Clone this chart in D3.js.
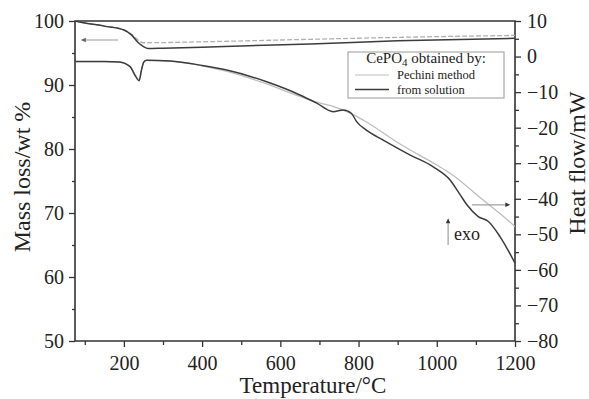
<!DOCTYPE html>
<html>
<head>
<meta charset="utf-8">
<script src="https://cdn.jsdelivr.net/npm/d3@7"></script>
<style>
  html, body { margin: 0; padding: 0; background: #fff; }
  svg { display: block; font-family: "Liberation Serif", "Times New Roman", serif; }
</style>
</head>
<body>
<svg id="chart" width="589" height="399"></svg>
<script>
// Thermogravimetric (mass) curves, left axis
const tgSolutionT = [75, 100, 150, 200, 220, 237, 250, 262, 300, 400, 500, 676, 900, 1200];
const tgSolution  = [100, 99.7, 99.2, 98.6, 97.8, 96.6, 96.0, 95.7, 95.75, 95.9, 96.1, 96.4, 96.9, 97.3];
const tgPechiniT  = [75, 100, 150, 200, 220, 237, 250, 400, 676, 906, 1200];
const tgPechini   = [100, 99.7, 99.2, 98.6, 97.9, 97.0, 96.6, 96.75, 97.14, 97.45, 97.75];

// DSC (heat flow) curves, right axis
const dscSolutionT = [75, 150, 188, 216, 228, 239, 245, 251, 258, 318, 400, 463, 565, 650, 693, 735, 761, 782, 795, 820, 863, 932, 991, 1034, 1060, 1077, 1106, 1132, 1162, 1200];
const dscSolution  = [-1.4, -1.4, -1.5, -2.85, -5.2, -6.8, -3.8, -1.5, -1.05, -1.25, -2.5, -3.8, -7.1, -10.8, -13.1, -15.5, -15.0, -16.0, -18.3, -20.7, -23.5, -27.7, -31.0, -34.7, -38.9, -41.7, -45.0, -46.4, -50.7, -58.1];
const dscPechiniT  = [75, 150, 188, 216, 228, 239, 245, 251, 258, 318, 400, 464, 565, 650, 700, 735, 780, 820, 906, 1000, 1034, 1118, 1160, 1200];
const dscPechini   = [-1.4, -1.4, -1.5, -2.8, -5.0, -6.5, -3.7, -1.5, -1.1, -1.3, -2.6, -4.2, -7.7, -11.2, -13.0, -14.0, -16.0, -18.4, -24.6, -30.5, -32.8, -40.3, -44.0, -47.8];

// Axis ticks
const xMajor = [200, 400, 600, 800, 1000, 1200];
const xMinor = [100, 300, 500, 700, 900, 1100];
const yLeftMajor = [50, 60, 70, 80, 90, 100];
const yLeftMinor = [55, 65, 75, 85, 95];
const yRightMajor = [10, 0, -10, -20, -30, -40, -50, -60, -70, -80];
const yRightMinor = [5, -5, -15, -25, -35, -45, -55, -65, -75];

const legendTitle = "obtained by:";
const legendNames = ["Pechini method", "from solution"];

const svg = d3.select("#chart");
const L = 75, R = 515, T = 21, B = 341;

const x = d3.scaleLinear().domain([75, 1200]).range([L, R]);
const yL = d3.scaleLinear().domain([50, 100]).range([B, T]);
const yR = d3.scaleLinear().domain([-80, 10]).range([B, T]);

const axisColor = "#333";
const darkLine = "#3c3c3c";
const lightLine = "#bdbdbd";
const tickFont = 20;

function styleAxis(g) {
  g.select(".domain").remove();
  g.selectAll(".tick line").attr("stroke", axisColor).attr("stroke-width", 1.3);
  g.selectAll("text").attr("fill", "#222").style("font-size", tickFont + "px")
    .style("font-family", '"Liberation Serif", serif');
}

// bottom axis
svg.append("g").attr("transform", `translate(0,${B})`)
  .call(d3.axisBottom(x).tickValues(xMinor).tickSize(4).tickFormat(""))
  .call(styleAxis);
svg.append("g").attr("transform", `translate(0,${B})`)
  .call(d3.axisBottom(x).tickValues(xMajor).tickSize(6).tickPadding(9).tickFormat(d3.format("d")))
  .call(styleAxis);

// left axis
svg.append("g").attr("transform", `translate(${L},0)`)
  .call(d3.axisLeft(yL).tickValues(yLeftMinor).tickSize(3).tickFormat(""))
  .call(styleAxis);
svg.append("g").attr("transform", `translate(${L},0)`)
  .call(d3.axisLeft(yL).tickValues(yLeftMajor).tickSize(6).tickPadding(5).tickFormat(d3.format("d")))
  .call(styleAxis);

// right axis
svg.append("g").attr("transform", `translate(${R},0)`)
  .call(d3.axisRight(yR).tickValues(yRightMinor).tickSize(4).tickFormat(""))
  .call(styleAxis);
svg.append("g").attr("transform", `translate(${R},0)`)
  .call(d3.axisRight(yR).tickValues(yRightMajor).tickSize(6).tickPadding(6).tickFormat(d3.format("d")))
  .call(styleAxis);

// frame
svg.append("path")
  .attr("d", `M${L},${B}V${T}H${R}V${B}H${L}`)
  .attr("fill", "none").attr("stroke", axisColor).attr("stroke-width", 1.6);

// curves
const zip = (a, b) => a.map((t, i) => [t, b[i]]);
const lineL = d3.line().x(d => x(d[0])).y(d => yL(d[1])).curve(d3.curveMonotoneX);
const lineR = d3.line().x(d => x(d[0])).y(d => yR(d[1])).curve(d3.curveMonotoneX);

const plot = svg.append("g");
plot.append("path").datum(zip(dscPechiniT, dscPechini)).attr("d", lineR)
  .attr("fill", "none").attr("stroke", lightLine).attr("stroke-width", 1.3);
plot.append("path").datum(zip(tgPechiniT, tgPechini)).attr("d", lineL)
  .attr("fill", "none").attr("stroke", "#b0b0b0").attr("stroke-width", 1.3)
  .attr("stroke-dasharray", "5,2");
plot.append("path").datum(zip(dscSolutionT, dscSolution)).attr("d", lineR)
  .attr("fill", "none").attr("stroke", darkLine).attr("stroke-width", 1.5);
plot.append("path").datum(zip(tgSolutionT, tgSolution)).attr("d", lineL)
  .attr("fill", "none").attr("stroke", darkLine).attr("stroke-width", 1.5);

// arrows
function arrow(x1, y1, x2, y2, lineColor, headColor) {
  const ang = Math.atan2(y2 - y1, x2 - x1);
  const hl = 5, hw = 2.2;
  const bx = x2 - hl * Math.cos(ang), by = y2 - hl * Math.sin(ang);
  svg.append("line").attr("x1", x1).attr("y1", y1).attr("x2", bx).attr("y2", by)
    .attr("stroke", lineColor).attr("stroke-width", 1.2);
  const px = -Math.sin(ang) * hw, py = Math.cos(ang) * hw;
  svg.append("path")
    .attr("d", `M${x2},${y2}L${bx + px},${by + py}L${bx - px},${by - py}Z`)
    .attr("fill", headColor);
}
// mass curves belong to the left axis
arrow(x(185), yL(97.03), x(90), yL(97.03), "#9a9a9a", "#666");
// heat flow curves belong to the right axis
arrow(x(1090), yR(-41.7), x(1188), yR(-41.7), "#a0a0a0", "#333");
// exothermic direction
arrow(x(1029), yR(-53), x(1029), yR(-45.5), "#a0a0a0", "#333");
svg.append("text").attr("x", x(1044)).attr("y", yR(-51.6))
  .attr("fill", "#222").style("font-size", "18px").text("exo");

// legend
const lg = svg.append("g");
lg.append("rect").attr("x", 348).attr("y", 52).attr("width", 156).attr("height", 46)
  .attr("fill", "#fff").attr("stroke", "#9a9a9a").attr("stroke-width", 1);
const lt = lg.append("text").attr("x", 426).attr("y", 63).attr("text-anchor", "middle")
  .attr("fill", "#222").style("font-size", "15px");
lt.append("tspan").text("CePO");
lt.append("tspan").attr("dy", 3).style("font-size", "11px").text("4");
lt.append("tspan").attr("dy", -3).text(" " + legendTitle);
const legendColors = [lightLine, darkLine];
legendNames.forEach((n, i) => {
  const yy = 75 + i * 14.5;
  lg.append("line").attr("x1", 355).attr("x2", 389).attr("y1", yy).attr("y2", yy)
    .attr("stroke", legendColors[i]).attr("stroke-width", i ? 1.4 : 1.1);
  lg.append("text").attr("x", 397).attr("y", yy + 4).attr("fill", "#222")
    .style("font-size", "12.5px").text(n);
});

// axis titles
svg.append("text").attr("x", 313).attr("y", 393).attr("text-anchor", "middle")
  .attr("fill", "#222").style("font-size", "23px").text("Temperature/°C");
svg.append("text").attr("transform", "translate(30,177) rotate(-90)")
  .attr("text-anchor", "middle").attr("fill", "#222").style("font-size", "24px")
  .text("Mass loss/wt %");
svg.append("text").attr("transform", "translate(585,163) rotate(-90)")
  .attr("text-anchor", "middle").attr("fill", "#222").style("font-size", "24px")
  .text("Heat flow/mW");
</script>
</body>
</html>
